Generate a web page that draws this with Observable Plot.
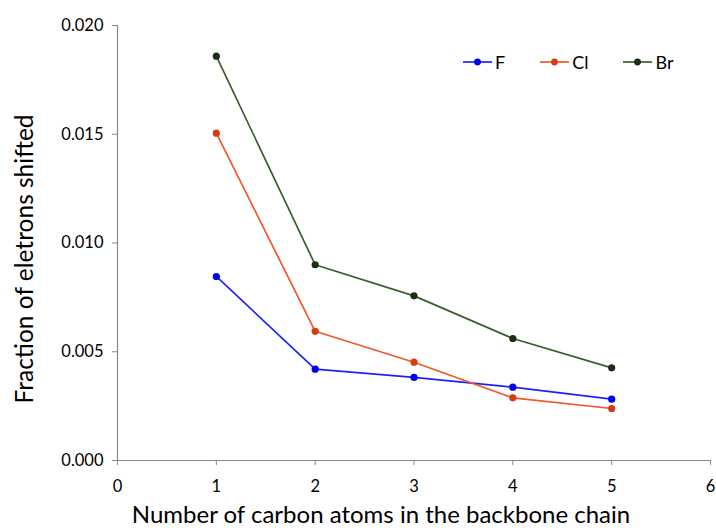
<!DOCTYPE html>
<html><head><meta charset="utf-8">
<script src="https://cdn.jsdelivr.net/npm/d3@7"></script>
<script src="https://cdn.jsdelivr.net/npm/@observablehq/plot@0.6"></script>
<style>
body{margin:0;background:#fff;}
#wrap{position:relative;width:716px;height:528px;font-family:Lato,sans-serif;}
#legend{position:absolute;top:51px;left:463px;display:flex;font-size:18px;color:#000;}
#legend .item{display:flex;align-items:center;margin-right:35px;}
#legend svg{margin-right:3px;}
</style>
</head><body>
<div id="wrap"><div id="legend"></div></div>
<script>
const carbons = [1, 2, 3, 4, 5];
const seriesNames = ["F", "Cl", "Br"];
const fValues  = [0.00846, 0.00420, 0.00382, 0.00337, 0.00282];
const clValues = [0.01505, 0.00594, 0.00452, 0.00288, 0.00239];
const brValues = [0.01859, 0.00900, 0.00757, 0.00561, 0.00426];
const lineColors = ["#2020ff", "#f0582a", "#3a5e2a"];
const dotColors  = ["#0000ee", "#d83a12", "#1a2e12"];
const xTicks = [0, 1, 2, 3, 4, 5, 6];
const yTicks = [0, 0.005, 0.010, 0.015, 0.020];
const xTitle = "Number of carbon atoms in the backbone chain";
const yTitle = "Fraction of eletrons shifted";

const valuesBySeries = [fValues, clValues, brValues];
const data = seriesNames.flatMap((name, s) =>
  carbons.map((c, i) => ({halogen: name, carbons: c, fraction: valuesBySeries[s][i]})));

const chart = Plot.plot({
  width: 716, height: 528,
  marginLeft: 117, marginRight: 6, marginTop: 25, marginBottom: 68,
  style: {fontFamily: 'Lato, sans-serif', background: "#fff"},
  x: {domain: [0, 6]},
  y: {domain: [0, 0.02]},
  color: {domain: seriesNames, range: lineColors},
  marks: [
    Plot.axisX({ticks: xTicks, tickFormat: d => String(d), tickSize: 5, tickPadding: 15, fontSize: 16.5, stroke: "#888", fill: "#000", label: null}),
    Plot.axisY({ticks: yTicks, tickFormat: d3.format(".3f"), tickSize: 5, tickPadding: 9, fontSize: 16.5, stroke: "#888", fill: "#000", label: null}),
    Plot.ruleY([0], {stroke: "#888", strokeWidth: 1.2}),
    Plot.ruleX([0], {stroke: "#888", strokeWidth: 1.2}),
    Plot.line(data, {x: "carbons", y: "fraction", z: "halogen", stroke: "halogen", strokeWidth: 1.7}),
    Plot.dot(data, {x: "carbons", y: "fraction", r: 3.6, fill: d => dotColors[seriesNames.indexOf(d.halogen)], stroke: "none"}),
    Plot.text([yTitle], {frameAnchor: "left", textAnchor: "middle", rotate: -90, dx: -92, dy: 16, fontSize: 24.5, fill: "#000"}),
    Plot.text([xTitle], {frameAnchor: "bottom", textAnchor: "middle", dx: -33, dy: 62, fontSize: 24, fill: "#000"})
  ]
});
document.getElementById("wrap").prepend(chart);

const legend = d3.select("#legend");
seriesNames.forEach((name, i) => {
  const item = legend.append("div").attr("class", "item");
  const sw = item.append("svg").attr("width", 29).attr("height", 12);
  sw.append("line").attr("x1", 0).attr("x2", 29).attr("y1", 6).attr("y2", 6).attr("stroke", lineColors[i]).attr("stroke-width", 1.7);
  sw.append("circle").attr("cx", 14.5).attr("cy", 6).attr("r", 3.4).attr("fill", dotColors[i]);
  item.append("span").text(name);
});
</script>
</body></html>
